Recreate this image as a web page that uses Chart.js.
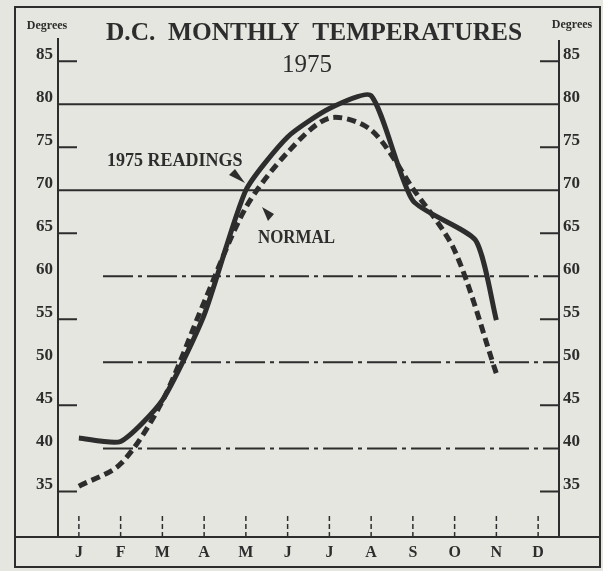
<!DOCTYPE html>
<html>
<head>
<meta charset="utf-8">
<script src="https://cdn.jsdelivr.net/npm/chart.js@4"></script>
<style>
  body { margin: 0; background: #e6e6e1; }
  canvas { display: block; }
</style>
</head>
<body>
<canvas id="tempChart" width="603" height="571"></canvas>
<script>
// month letters along the bottom, placed at month numbers 1..12
const months = ['J', 'F', 'M', 'A', 'M', 'J', 'J', 'A', 'S', 'O', 'N', 'D'];
const monthNumbers = [1, 2, 3, 4, 5, 6, 7, 8, 9, 10, 11, 12];

// 1975 readings (solid) - the Oct point sits between O and N in the print
const readingMonths = [1, 2, 3, 4, 5, 6, 7, 8, 9, 10.5, 11];
const readings1975 = [41.2, 40.8, 45.6, 55.5, 70.0, 76.2, 79.5, 81.0, 68.8, 64.2, 54.9];

// normal (dashed)
const normalMonths = [1, 2, 3, 4, 5, 6, 7, 8, 9, 10, 11];
const normalTemps = [35.6, 38.2, 45.5, 57.0, 68.0, 74.4, 78.4, 77.0, 70.2, 63.0, 48.7];

const yTicks = [35, 40, 45, 50, 55, 60, 65, 70, 75, 80, 85];
const solidRules = [70, 80];
const brokenRules = [40, 50, 60];

const INK = '#2d2d2d';
const PAPER = '#e6e6e1';
const SERIF = '"Liberation Serif", "DejaVu Serif", serif';

const newsprintPlugin = {
    id: 'newsprint',
    beforeDraw(chart) {
        const ctx = chart.ctx;
        ctx.save();
        ctx.fillStyle = PAPER;
        ctx.fillRect(0, 0, chart.width, chart.height);
        ctx.restore();
    },
    beforeDatasetsDraw(chart) {
        const { ctx, chartArea: a, scales } = chart;
        const x = scales.x, y = scales.y;
        ctx.save();
        ctx.strokeStyle = INK;

        // outer box
        ctx.lineWidth = 2;
        ctx.strokeRect(15, 7, chart.width - 18, chart.height - 11);

        // axes + base line running full width
        ctx.beginPath();
        ctx.moveTo(a.left, a.top); ctx.lineTo(a.left, a.bottom);
        ctx.moveTo(a.right, a.top + 2); ctx.lineTo(a.right, a.bottom);
        ctx.moveTo(15, a.bottom); ctx.lineTo(chart.width - 3, a.bottom);
        ctx.stroke();

        // horizontal rules and short ticks
        yTicks.forEach(v => {
            const py = y.getPixelForValue(v);
            ctx.beginPath();
            if (solidRules.includes(v)) {
                ctx.setLineDash([]);
                ctx.moveTo(a.left, py); ctx.lineTo(a.right, py);
            } else if (brokenRules.includes(v)) {
                ctx.setLineDash([30, 5, 4, 5]);
                ctx.moveTo(a.left + 45, py); ctx.lineTo(a.right, py);
            } else {
                ctx.setLineDash([]);
                ctx.moveTo(a.left, py); ctx.lineTo(a.left + 19, py);
                ctx.moveTo(a.right - 19, py); ctx.lineTo(a.right, py);
            }
            ctx.stroke();
        });

        // little month ticks above the base line
        ctx.lineWidth = 1.5;
        ctx.setLineDash([5, 3]);
        monthNumbers.forEach(m => {
            const px = x.getPixelForValue(m);
            ctx.beginPath();
            ctx.moveTo(px, a.bottom); ctx.lineTo(px, a.bottom - 24);
            ctx.stroke();
        });
        ctx.restore();
    },
    afterDraw(chart) {
        const ctx = chart.ctx;
        ctx.save();
        ctx.fillStyle = INK;
        ctx.textBaseline = 'alphabetic';

        ctx.textAlign = 'center';
        ctx.font = 'bold 26px ' + SERIF;
        ctx.fillText('D.C.  MONTHLY  TEMPERATURES', 314, 40, 416);
        ctx.font = '25px ' + SERIF;
        ctx.fillText('1975', 307, 72);

        ctx.font = 'bold 12px ' + SERIF;
        ctx.fillText('Degrees', 47, 29, 49);
        ctx.fillText('Degrees', 572, 28, 50);

        ctx.textAlign = 'left';
        ctx.font = 'bold 18px ' + SERIF;
        ctx.fillText('1975 READINGS', 107, 166, 144);
        ctx.fillText('NORMAL', 258, 243, 77);

        // pointer wedges
        ctx.beginPath();
        ctx.moveTo(229, 175); ctx.lineTo(235, 169); ctx.lineTo(245, 183);
        ctx.closePath(); ctx.fill();
        ctx.beginPath();
        ctx.moveTo(262, 207); ctx.lineTo(274, 214); ctx.lineTo(268, 221);
        ctx.closePath(); ctx.fill();
        ctx.restore();
    }
};

const yScale = (pos, width, pad) => ({
    type: 'linear',
    position: pos,
    min: 29.7,
    max: 87.7,
    afterBuildTicks: s => { s.ticks = yTicks.map(v => ({ value: v })); },
    afterFit: s => { s.width = width; },
    grid: { display: false, drawTicks: false, tickLength: 0 },
    border: { display: false },
    ticks: {
        color: INK,
        padding: pad,
        labelOffset: -7,
        font: { family: SERIF, size: 17, weight: 'bold' }
    }
});

new Chart(document.getElementById('tempChart'), {
    type: 'line',
    data: {
        datasets: [{
            label: '1975 READINGS',
            data: readingMonths.map((m, i) => ({ x: m, y: readings1975[i] })),
            borderColor: INK,
            borderWidth: 5,
            pointRadius: 0,
            tension: 0.2,
            fill: false
        }, {
            label: 'NORMAL',
            data: normalMonths.map((m, i) => ({ x: m, y: normalTemps[i] })),
            borderColor: INK,
            borderWidth: 5,
            borderDash: [9, 5],
            pointRadius: 0,
            tension: 0.3,
            fill: false
        }]
    },
    options: {
        responsive: false,
        animation: false,
        layout: { padding: { top: 38 } },
        plugins: { legend: { display: false }, tooltip: { enabled: false } },
        scales: {
            x: {
                type: 'linear',
                min: 0.5,
                max: 12.5,
                afterBuildTicks: s => { s.ticks = monthNumbers.map(v => ({ value: v })); },
                afterFit: s => { s.height = 34; },
                grid: { display: false, drawTicks: false, tickLength: 0 },
                border: { display: false },
                ticks: {
                    color: INK,
                    padding: 6,
                    maxRotation: 0,
                    font: { family: SERIF, size: 16, weight: 'bold' },
                    callback: v => months[v - 1]
                }
            },
            y: yScale('left', 58, 5),
            y2: yScale('right', 44, 4)
        }
    },
    plugins: [newsprintPlugin]
});
</script>
</body>
</html>
